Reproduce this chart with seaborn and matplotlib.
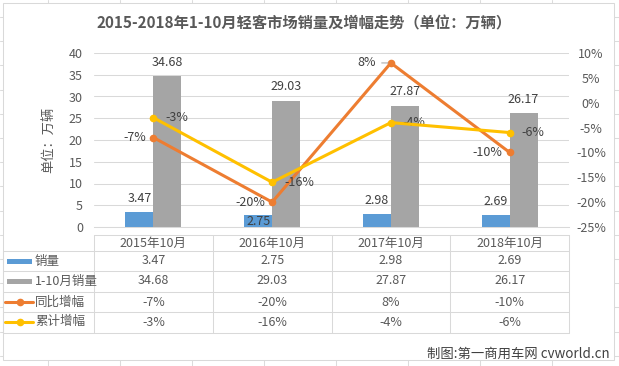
import matplotlib
matplotlib.use("Agg")
import matplotlib.pyplot as plt
import matplotlib.transforms as mtrans
from matplotlib.lines import Line2D
from matplotlib.patches import Rectangle
import seaborn as sns
import pandas as pd
import numpy as np

# ---------------- data ----------------
categories = ["2015年10月", "2016年10月", "2017年10月", "2018年10月"]
monthly_sales = [3.47, 2.75, 2.98, 2.69]          # 销量 (万辆)
ytd_sales = [34.68, 29.03, 27.87, 26.17]          # 1-10月销量 (万辆)
yoy_growth = [-7, -20, 8, -10]                    # 同比增幅 (%)
ytd_growth = [-3, -16, -4, -6]                    # 累计增幅 (%)
series_names = ["销量", "1-10月销量", "同比增幅", "累计增幅"]
left_ticks = [0, 5, 10, 15, 20, 25, 30, 35, 40]
right_ticks = [10, 5, 0, -5, -10, -15, -20, -25]
title = "2015-2018年1-10月轻客市场销量及增幅走势（单位：万辆）"
y_label = "单位：万辆"
credit = "制图:第一商用车网 cvworld.cn"

# ---------------- style ----------------
sns.set_theme(style="white")
plt.rcParams["font.family"] = ["Noto Sans CJK SC", "DejaVu Sans"]
plt.rcParams["axes.unicode_minus"] = False

BLUE, GRAY, ORANGE, YELLOW = "#5b9bd5", "#a5a5a5", "#ed7d31", "#ffc000"
TXT, DARK, GRID = "#595959", "#404040", "#d9d9d9"
colors = [BLUE, GRAY, ORANGE, YELLOW]

W, H = 619, 366
fig = plt.figure(figsize=(W / 100, H / 100), dpi=100)
fig.patch.set_facecolor("white")


def fx(px):
    return px / W


def fy(py):
    return 1 - py / H


# Excel sheet gridlines in the background + chart area
for gx in np.arange(48, W, 72):
    fig.add_artist(Line2D([fx(gx)] * 2, [0, 1], transform=fig.transFigure,
                          color="#dcdcdc", lw=0.75, zorder=-3))
for gy in np.arange(17, H, 24.2):
    fig.add_artist(Line2D([0, 1], [fy(gy)] * 2, transform=fig.transFigure,
                          color="#dcdcdc", lw=0.75, zorder=-3))
fig.add_artist(Rectangle((fx(3), fy(360)), fx(614) - fx(3), fy(3) - fy(360),
                         transform=fig.transFigure, facecolor="white",
                         edgecolor=GRID, lw=0.75, zorder=-2))

# ---------------- plot axes ----------------
L, R, T, B = 94, 569, 53, 227
ax = fig.add_axes([fx(L), fy(B), fx(R) - fx(L), fy(T) - fy(B)])
ax.patch.set_visible(False)

df = pd.DataFrame({
    "category": categories * 2,
    "series": [series_names[0]] * len(categories) + [series_names[1]] * len(categories),
    "value": monthly_sales + ytd_sales,
})
sns.barplot(data=df, x="category", y="value", hue="series", order=categories,
            hue_order=series_names[:2], palette=[BLUE, GRAY], width=0.47,
            saturation=1, linewidth=0, legend=False, ax=ax)
ax.set_xlim(-0.5, len(categories) - 0.5)
ax.set_ylim(0, 40)
ax.set_yticks(left_ticks)
ax.set_yticklabels([str(v) for v in left_ticks])
ax.set_xticks([])
ax.set_xlabel("")
ax.set_ylabel("")
ax.grid(axis="y", color=GRID, lw=0.75)
ax.set_axisbelow(True)
for s in ["left", "right", "top"]:
    ax.spines[s].set_visible(False)
ax.spines["bottom"].set_color(GRID)
ax.spines["bottom"].set_linewidth(0.75)
ax.tick_params(axis="y", length=0, pad=8, labelsize=9, labelcolor=TXT)

# bar labels
bar_offsets = {(0, 1): -4.5}  # 2016 monthly label moved down onto the bar
for si, cont in enumerate(ax.containers):
    vals = monthly_sales if si == 0 else ytd_sales
    for ci, (bar, v) in enumerate(zip(cont, vals)):
        off = bar_offsets.get((si, ci), 10)
        ax.annotate(f"{v:.2f}", (bar.get_x() + bar.get_width() / 2, bar.get_height()),
                    xytext=(0, off), textcoords="offset points", ha="center",
                    va="center", fontsize=9, color=DARK)

# ---------------- line axes ----------------
ax2 = ax.twinx()
xpos = np.arange(len(categories))
sns.lineplot(x=xpos, y=yoy_growth, ax=ax2, color=ORANGE, lw=2.2, marker="o",
             markersize=5.5, markeredgewidth=0, zorder=3)
sns.lineplot(x=xpos, y=ytd_growth, ax=ax2, color=YELLOW, lw=2.2, marker="o",
             markersize=5.5, markeredgewidth=0, zorder=4)
ax2.set_ylim(-25, 10)
ax2.set_yticks(right_ticks)
ax2.set_yticklabels([f"{v}%" for v in right_ticks])
for lbl in ax2.get_yticklabels():
    lbl.set_horizontalalignment("center")
ax2.tick_params(axis="y", length=0, pad=15.8, labelsize=9, labelcolor=TXT)
ax2.set_xlabel("")
ax2.set_ylabel("")
ax2.grid(False)
for s in ax2.spines.values():
    s.set_visible(False)

for i, v in enumerate(yoy_growth):
    if i == 2:
        ax2.annotate(f"{v}%", (i, v), xytext=(-11, 0), textcoords="offset points",
                     ha="right", va="center", fontsize=9, color=DARK,
                     arrowprops=dict(arrowstyle="-", color="#a6a6a6", lw=0.75,
                                     shrinkA=2, shrinkB=2))
    else:
        ax2.annotate(f"{v}%", (i, v), xytext=(-5, 0), textcoords="offset points",
                     ha="right", va="center", fontsize=9, color=DARK)
for i, v in enumerate(ytd_growth):
    ax2.annotate(f"{v}%", (i, v), xytext=(8.6, 0), textcoords="offset points",
                 ha="left", va="center", fontsize=9, color=DARK)

# ---------------- data table ----------------
blend = mtrans.blended_transform_factory(ax.transData, fig.transFigure)
row_lines = [251, 271, 292, 312, 333]
row_centers = [261, 281, 302, 322]
head_top, head_c = 235, 243
tl = dict(color=GRID, lw=0.75)
fig.add_artist(Line2D([-0.5, len(categories) - 0.5], [fy(head_top)] * 2, transform=blend, **tl))
for ry in row_lines:
    fig.add_artist(Line2D([fx(3), fx(R)], [fy(ry)] * 2, transform=fig.transFigure, **tl))
fig.add_artist(Line2D([fx(3)] * 2, [fy(row_lines[0]), fy(row_lines[-1])],
                      transform=fig.transFigure, **tl))
for bx in np.arange(-0.5, len(categories), 1.0):
    fig.add_artist(Line2D([bx, bx], [fy(head_top), fy(row_lines[-1])], transform=blend, **tl))

for i, c in enumerate(categories):
    fig.text(i, fy(head_c), c, transform=blend, ha="center", va="center", fontsize=9, color=TXT)
rows = [
    [f"{v:.2f}" for v in monthly_sales],
    [f"{v:.2f}" for v in ytd_sales],
    [f"{v}%" for v in yoy_growth],
    [f"{v}%" for v in ytd_growth],
]
for r, (vals, yc) in enumerate(zip(rows, row_centers)):
    for i, t in enumerate(vals):
        fig.text(i, fy(yc), t, transform=blend, ha="center", va="center", fontsize=9, color=TXT)
    fig.text(fx(35), fy(yc), series_names[r], ha="left", va="center", fontsize=9, color=TXT)
    if r < 2:
        fig.add_artist(Rectangle((fx(7), fy(yc + 2.5)), fx(32) - fx(7), fy(yc - 2.5) - fy(yc + 2.5),
                                 transform=fig.transFigure, facecolor=colors[r], lw=0))
    else:
        fig.add_artist(Line2D([fx(5), fx(33)], [fy(yc)] * 2, transform=fig.transFigure,
                              color=colors[r], lw=2.2))
        fig.add_artist(Line2D([fx(19.5)], [fy(yc)], transform=fig.transFigure, color=colors[r],
                              marker="o", markersize=5.5, markeredgewidth=0, lw=0))

# ---------------- texts ----------------
fig.text(fx(304.5), fy(23), title, ha="center", va="center", fontsize=11,
         fontweight="bold", color=TXT)
fig.text(fx(49), fy(140), y_label, rotation=90, ha="center", va="center",
         fontsize=9.5, color=TXT)
fig.text(fx(610), fy(354), credit, ha="right", va="center", fontsize=9.6, color=DARK)

fig.savefig("out.png", dpi=100)
